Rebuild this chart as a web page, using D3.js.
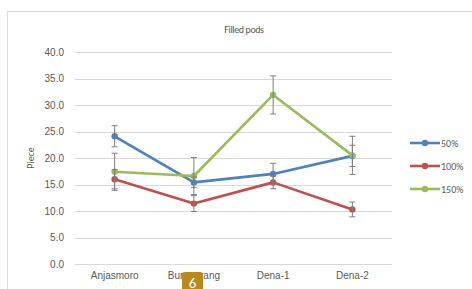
<!DOCTYPE html>
<html><head><meta charset="utf-8">
<script src="https://cdn.jsdelivr.net/npm/d3@7"></script>
<style>body{margin:0;background:#fff;}svg{display:block;font-family:Calibri,"Carlito","Open Sans",sans-serif;}</style>
</head><body>
<svg id="c" width="472" height="289"></svg>
<script>
const categories = ["Anjasmoro", "Burangrang", "Dena-1", "Dena-2"];
const seriesNames = ["50%", "100%", "150%"];
const values50 = [24.1, 15.4, 17.0, 20.4];
const values100 = [16.0, 11.4, 15.4, 10.3];
const values150 = [17.4, 16.6, 31.9, 20.5];
const err50 = [2.0, 1.0, 2.0, 2.0];
const err100 = [1.8, 1.5, 1.2, 1.4];
const err150 = [3.5, 3.5, 3.6, 3.6];
const yTicks = [0, 5, 10, 15, 20, 25, 30, 35, 40];
const colors = ["#4F81BD", "#C0504D", "#9BBB59"];

const series = [
  {name: seriesNames[0], vals: values50, err: err50, color: colors[0]},
  {name: seriesNames[1], vals: values100, err: err100, color: colors[1]},
  {name: seriesNames[2], vals: values150, err: err150, color: colors[2]}
];

const svg = d3.select("#c");
svg.append("rect").attr("x", 7.5).attr("y", 11.5).attr("width", 480).attr("height", 290)
  .attr("fill", "#fff").attr("stroke", "#d9d9d9");

const x = d3.scaleBand().domain(categories).range([75, 392]);
const y = d3.scaleLinear().domain([0, 40]).range([264, 52]);

// gridlines
svg.append("g").selectAll("line").data(yTicks).join("line")
  .attr("x1", 75).attr("x2", 392)
  .attr("y1", d => Math.round(y(d)) + 0.5).attr("y2", d => Math.round(y(d)) + 0.5)
  .attr("stroke", "#d9d9d9").attr("stroke-width", 1);

// y axis labels
const yAxis = d3.axisLeft(y).tickValues(yTicks).tickFormat(d3.format(".1f")).tickSize(0).tickPadding(0);
const gy = svg.append("g").attr("transform", "translate(64,0)").call(yAxis);
gy.select(".domain").remove();
gy.selectAll("text").attr("fill", "#595959").style("font-size", "10px");

// x axis labels
const xAxis = d3.axisBottom(x).tickSize(0).tickPadding(0);
const gx = svg.append("g").attr("transform", "translate(0,272)").call(xAxis);
gx.select(".domain").remove();
gx.selectAll("text").attr("fill", "#595959").style("font-size", "10px");

const cx = c => x(c) + x.bandwidth() / 2;

// lines
const line = d3.line().x((d, i) => cx(categories[i])).y(d => y(d));
series.forEach(s => {
  svg.append("path").datum(s.vals).attr("d", line).attr("fill", "none")
    .attr("stroke", s.color).attr("stroke-width", 2.6).attr("stroke-linejoin", "round");
  svg.append("g").selectAll("circle").data(s.vals).join("circle")
    .attr("cx", (d, i) => cx(categories[i])).attr("cy", d => y(d)).attr("r", 3.2)
    .attr("fill", s.color);
});

// error bars
series.forEach(s => {
  const g = svg.append("g").attr("stroke", "#7f7f7f").attr("stroke-width", 1);
  s.vals.forEach((v, i) => {
    const px = cx(categories[i]);
    const top = y(v + s.err[i]), bot = y(v - s.err[i]);
    g.append("line").attr("x1", px).attr("x2", px).attr("y1", top).attr("y2", bot);
    g.append("line").attr("x1", px - 3).attr("x2", px + 3).attr("y1", top).attr("y2", top);
    g.append("line").attr("x1", px - 3).attr("x2", px + 3).attr("y1", bot).attr("y2", bot);
  });
});

// title
svg.append("text").attr("x", 244).attr("y", 33).attr("text-anchor", "middle")
  .attr("fill", "#595959").style("font-size", "10px").style("letter-spacing", "-0.4px").text("Filled pods");

// y label
svg.append("text").attr("transform", "translate(34,158) rotate(-90)").attr("text-anchor", "middle")
  .attr("fill", "#595959").style("font-size", "10px").text("Piece");

// legend
const leg = svg.append("g");
series.forEach((s, i) => {
  const ly = [143, 166, 189][i];
  leg.append("line").attr("x1", 410).attr("x2", 440).attr("y1", ly).attr("y2", ly)
    .attr("stroke", s.color).attr("stroke-width", 2.6);
  leg.append("circle").attr("cx", 425).attr("cy", ly).attr("r", 3.2).attr("fill", s.color);
  leg.append("text").attr("x", 441).attr("y", ly + 3.5).attr("fill", "#595959")
    .style("font-size", "10px").text(s.name);
});

// page badge overlay
svg.append("rect").attr("x", 182).attr("y", 272).attr("width", 21).attr("height", 22).attr("rx", 3)
  .attr("fill", "#B8891F");
svg.append("text").attr("x", 192.5).attr("y", 288).attr("text-anchor", "middle")
  .attr("fill", "#fff").style("font-size", "15px").text("6");
</script>
</body></html>
